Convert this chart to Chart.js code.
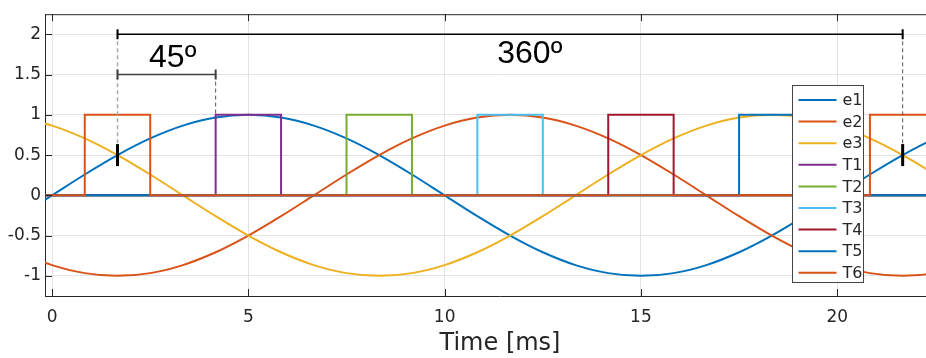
<!DOCTYPE html>
<html>
<head>
<meta charset="utf-8">
<script src="https://cdn.jsdelivr.net/npm/chart.js@4.4.1/dist/chart.umd.min.js"></script>
<style>
  html, body { margin: 0; padding: 0; background: #fff; overflow: hidden; width: 926px; height: 358px; }
  canvas { display: block; }
</style>
</head>
<body>
<!-- the axes run a little past the right edge of the window, as in the original crop -->
<canvas id="chart" width="960" height="358"></canvas>
<script>
  // time axis (ms), one sample every 15 degrees of a 50 Hz period
  const TIME = [-0.833, 0, 0.833, 1.667, 2.5, 3.333, 4.167, 5, 5.833, 6.667, 7.5, 8.333, 9.167, 10,
    10.833, 11.667, 12.5, 13.333, 14.167, 15, 15.833, 16.667, 17.5, 18.333, 19.167, 20, 20.833, 21.667, 22.5, 23.333];

  const E1 = [-0.259, 0, 0.259, 0.5, 0.707, 0.866, 0.966, 1, 0.966, 0.866, 0.707, 0.5, 0.259, 0,
    -0.259, -0.5, -0.707, -0.866, -0.966, -1, -0.966, -0.866, -0.707, -0.5, -0.259, 0, 0.259, 0.5, 0.707, 0.866];
  const E2 = [-0.707, -0.866, -0.966, -1, -0.966, -0.866, -0.707, -0.5, -0.259, 0, 0.259, 0.5, 0.707, 0.866,
    0.966, 1, 0.966, 0.866, 0.707, 0.5, 0.259, 0, -0.259, -0.5, -0.707, -0.866, -0.966, -1, -0.966, -0.866];
  const E3 = [0.966, 0.866, 0.707, 0.5, 0.259, 0, -0.259, -0.5, -0.707, -0.866, -0.966, -1, -0.966, -0.866,
    -0.707, -0.5, -0.259, 0, 0.259, 0.5, 0.707, 0.866, 0.966, 1, 0.966, 0.866, 0.707, 0.5, 0.259, 0];

  // gate pulses: switch-on / switch-off instants (ms)
  const T1_ON = [4.167],  T1_OFF = [5.833];
  const T2_ON = [7.5],    T2_OFF = [9.167];
  const T3_ON = [10.833], T3_OFF = [12.5];
  const T4_ON = [14.167], T4_OFF = [15.833];
  const T5_ON = [17.5],   T5_OFF = [19.167];
  const T6_ON = [0.833, 20.833], T6_OFF = [2.5, 22.5];

  const LABELS = ["e1", "e2", "e3", "T1", "T2", "T3", "T4", "T5", "T6"];
  const COLORS = ["#0072BD", "#D95319", "#EDB120", "#7E2F8E", "#77AC30", "#4DBEEE", "#A2142F", "#0072BD", "#D95319"];

  const X_TICKS = [0, 5, 10, 15, 20];
  const Y_TICKS = [-1, -0.5, 0, 0.5, 1, 1.5, 2];

  // annotation: phase crossing points and the two spans
  const CROSS_T = [1.667, 21.667];
  const CROSS_V = 0.5;
  const SPAN_360 = { from: 1.667, to: 21.667, level: 2, text: "360º", tx: 11.34, ty: 1.64 };
  const SPAN_45 = { from: 1.667, to: 4.167, level: 1.5, text: "45º", tx: 2.47, ty: 1.6 };

  const TXT = "#262626";

  function wave(vals) {
    return TIME.map((t, i) => ({ x: t, y: vals[i] }));
  }

  function pulses(on, off) {
    const pts = [{ x: TIME[0], y: 0 }];
    on.forEach((t, i) => {
      pts.push({ x: t, y: 0 }, { x: t, y: 1 }, { x: off[i], y: 1 }, { x: off[i], y: 0 });
    });
    pts.push({ x: TIME[TIME.length - 1], y: 0 });
    return pts;
  }

  const series = [
    wave(E1), wave(E2), wave(E3),
    pulses(T1_ON, T1_OFF), pulses(T2_ON, T2_OFF), pulses(T3_ON, T3_OFF),
    pulses(T4_ON, T4_OFF), pulses(T5_ON, T5_OFF), pulses(T6_ON, T6_OFF),
  ];

  const decorations = {
    id: "decorations",
    afterDatasetsDraw(chart) {
      const { ctx, chartArea: a, scales: { x, y } } = chart;
      ctx.save();

      // dashed guides
      ctx.lineWidth = 1.5;
      ctx.setLineDash([4, 3]);
      ctx.strokeStyle = "#aaaaaa";
      ctx.beginPath();
      ctx.moveTo(x.getPixelForValue(CROSS_T[0]), y.getPixelForValue(SPAN_360.level));
      ctx.lineTo(x.getPixelForValue(CROSS_T[0]), y.getPixelForValue(CROSS_V) - 11);
      ctx.stroke();
      ctx.lineWidth = 1;
      ctx.strokeStyle = "#555555";
      ctx.beginPath();
      ctx.moveTo(x.getPixelForValue(CROSS_T[1]), y.getPixelForValue(SPAN_360.level));
      ctx.lineTo(x.getPixelForValue(CROSS_T[1]), y.getPixelForValue(CROSS_V) - 11);
      ctx.moveTo(x.getPixelForValue(SPAN_45.to), y.getPixelForValue(SPAN_45.level));
      ctx.lineTo(x.getPixelForValue(SPAN_45.to), y.getPixelForValue(1));
      ctx.stroke();
      ctx.setLineDash([]);

      // crossing markers
      ctx.strokeStyle = "#000";
      ctx.lineWidth = 3;
      CROSS_T.forEach((t) => {
        const px = x.getPixelForValue(t), py = y.getPixelForValue(CROSS_V);
        ctx.beginPath();
        ctx.moveTo(px, py - 11);
        ctx.lineTo(px, py + 11);
        ctx.stroke();
      });

      // spans
      [[SPAN_360, "#000"], [SPAN_45, "#404040"]].forEach(([s, col]) => {
        const x0 = x.getPixelForValue(s.from), x1 = x.getPixelForValue(s.to);
        const py = y.getPixelForValue(s.level);
        ctx.strokeStyle = col;
        ctx.lineWidth = 1.5;
        ctx.beginPath();
        ctx.moveTo(x0, py);
        ctx.lineTo(x1, py);
        ctx.stroke();
        ctx.lineWidth = 2;
        ctx.beginPath();
        ctx.moveTo(x0, py - 5); ctx.lineTo(x0, py + 5);
        ctx.moveTo(x1, py - 5); ctx.lineTo(x1, py + 5);
        ctx.stroke();
        ctx.fillStyle = "#000";
        ctx.font = "32px 'Liberation Sans', Arial, sans-serif";
        ctx.textAlign = "left";
        ctx.textBaseline = "alphabetic";
        ctx.fillText(s.text, x.getPixelForValue(s.tx), y.getPixelForValue(s.ty));
      });

      // top box line + inward ticks
      ctx.strokeStyle = TXT;
      ctx.lineWidth = 1;
      ctx.beginPath();
      ctx.moveTo(a.left, a.top + 0.5);
      ctx.lineTo(a.right, a.top + 0.5);
      x.ticks.forEach((t) => {
        const px = Math.round(x.getPixelForValue(t.value)) + 0.5;
        ctx.moveTo(px, a.bottom); ctx.lineTo(px, a.bottom - 7);
        ctx.moveTo(px, a.top); ctx.lineTo(px, a.top + 7);
      });
      y.ticks.forEach((t) => {
        const py = Math.round(y.getPixelForValue(t.value)) + 0.5;
        ctx.moveTo(a.left, py); ctx.lineTo(a.left + 7, py);
      });
      ctx.stroke();
      ctx.restore();
    },
    afterDraw(chart) {
      const { ctx } = chart;
      const box = { left: 792.5, top: 85.5, w: 71, h: 197 };
      ctx.save();
      ctx.fillStyle = "#fff";
      ctx.fillRect(box.left, box.top, box.w, box.h);
      ctx.strokeStyle = "#444";
      ctx.lineWidth = 1;
      ctx.strokeRect(box.left, box.top, box.w, box.h);
      ctx.font = "16px 'DejaVu Sans', sans-serif";
      ctx.textBaseline = "middle";
      ctx.textAlign = "left";
      chart.data.datasets.forEach((ds, i) => {
        const cy = box.top + 14.5 + i * 21.6;
        ctx.strokeStyle = ds.borderColor;
        ctx.lineWidth = 2;
        ctx.beginPath();
        ctx.moveTo(box.left + 6, cy);
        ctx.lineTo(box.left + 44, cy);
        ctx.stroke();
        ctx.fillStyle = TXT;
        ctx.fillText(ds.label, box.left + 50, cy + 1);
      });
      ctx.restore();
    },
  };

  new Chart(document.getElementById("chart"), {
    type: "line",
    data: {
      datasets: series.map((pts, i) => ({
        label: LABELS[i],
        data: pts,
        borderColor: COLORS[i],
        backgroundColor: COLORS[i],
        borderWidth: 2,
        pointRadius: 0,
        order: -i,
        cubicInterpolationMode: i < 3 ? "monotone" : "default",
        tension: 0,
      })),
    },
    options: {
      responsive: false,
      animation: false,
      layout: { padding: { top: 10, right: 5, left: 0, bottom: 0 } },
      plugins: { legend: { display: false }, tooltip: { enabled: false } },
      scales: {
        x: {
          type: "linear",
          min: -0.18,
          max: 23.0,
          afterBuildTicks: (s) => { s.ticks = X_TICKS.map((v) => ({ value: v })); },
          afterFit: (s) => { s.height = 62; },
          grid: { color: "#e3e3e3", drawTicks: false },
          border: { color: TXT, width: 1 },
          ticks: { color: TXT, padding: 11, font: { family: "'DejaVu Sans'", size: 17 } },
          title: {
            display: true, text: "Time [ms]", color: TXT,
            font: { family: "'DejaVu Sans'", size: 24 }, padding: { top: 1, bottom: 0 },
          },
        },
        y: {
          min: -1.25,
          max: 2.25,
          afterBuildTicks: (s) => { s.ticks = Y_TICKS.map((v) => ({ value: v })); },
          afterFit: (s) => { s.width = 45; },
          grid: { color: "#e3e3e3", drawTicks: false },
          border: { color: TXT, width: 1 },
          ticks: { color: TXT, padding: 4, font: { family: "'DejaVu Sans'", size: 17 }, callback: (v) => String(v) },
        },
      },
    },
    plugins: [decorations],
  });
</script>
</body>
</html>
